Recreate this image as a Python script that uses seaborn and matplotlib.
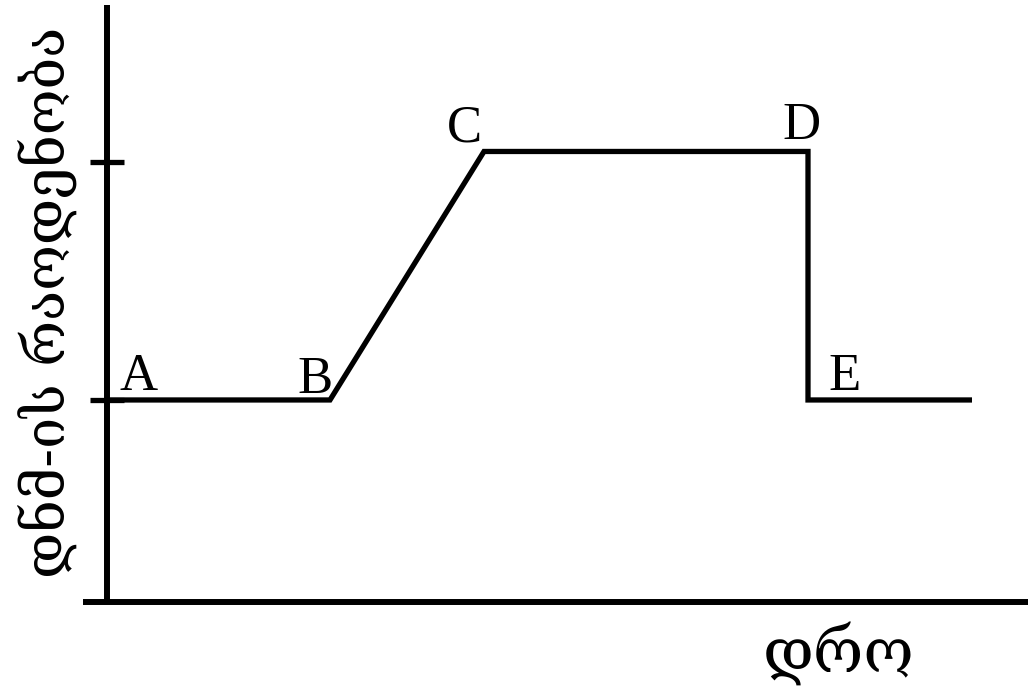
import numpy as np
import pandas as pd
import matplotlib.pyplot as plt
import seaborn as sns

# stages of the curve (time, DNA amount)
points = ['A', 'B', 'C', 'D', 'E', '']
time = [0.0, 2.23, 3.77, 7.01, 7.01, 8.65]
dna = [1.0, 1.0, 2.23, 2.23, 1.0, 1.0]
y_ticks = [1.0, 2.18]

# label offsets from their points (text only)
label_x = [0.13, 1.90, 3.40, 6.75, 7.21]
label_y = [1.05, 1.035, 2.277, 2.29, 1.05]

xlabel = 'დრო'
ylabel = 'დნმ-ის რაოდენობა'

sns.set_style('white')
plt.rcParams['font.family'] = ['DejaVu Serif', 'DejaVu Sans']

fig = plt.figure(figsize=(10.28, 6.91), dpi=100)
W, H = 1028, 691
ax = fig.add_axes([83 / W, (H - 602) / H, (1028 - 83) / W, (602 - 5) / H])

df = pd.DataFrame({'time': time, 'dna': dna})
sns.lineplot(data=df, x='time', y='dna', sort=False, estimator=None,
             color='black', linewidth=3.8, ax=ax, solid_joinstyle='miter',
             solid_capstyle='butt')

ax.set_xlim(-0.24, 9.21)
ax.set_ylim(0, 2.955)

for s in ['top', 'right']:
    ax.spines[s].set_visible(False)
ax.spines['left'].set_position(('data', 0))
ax.spines['bottom'].set_position(('data', 0))
for s in ['left', 'bottom']:
    ax.spines[s].set_linewidth(4.3)
    ax.spines[s].set_color('black')
    ax.spines[s].set_capstyle('butt')

ax.set_xticks([])
ax.set_yticks(y_ticks)
ax.set_yticklabels([])
ax.tick_params(axis='y', left=True, direction='inout', length=25, width=3.8,
               color='black')
ax.set_xlabel('')
ax.set_ylabel('')

for name, lx, ly in zip(points, label_x, label_y):
    ax.text(lx, ly, name, fontsize=38, family='Liberation Serif',
            color='black', ha='left', va='baseline')

fig.text(839 / W, 1 - 653 / H, xlabel, fontsize=44, color='black',
         ha='center', va='center')
fig.text(47 / W, 1 - 302 / H, ylabel, fontsize=40, rotation=90,
         color='black', ha='center', va='center')

fig.savefig('out.png', dpi=100)
